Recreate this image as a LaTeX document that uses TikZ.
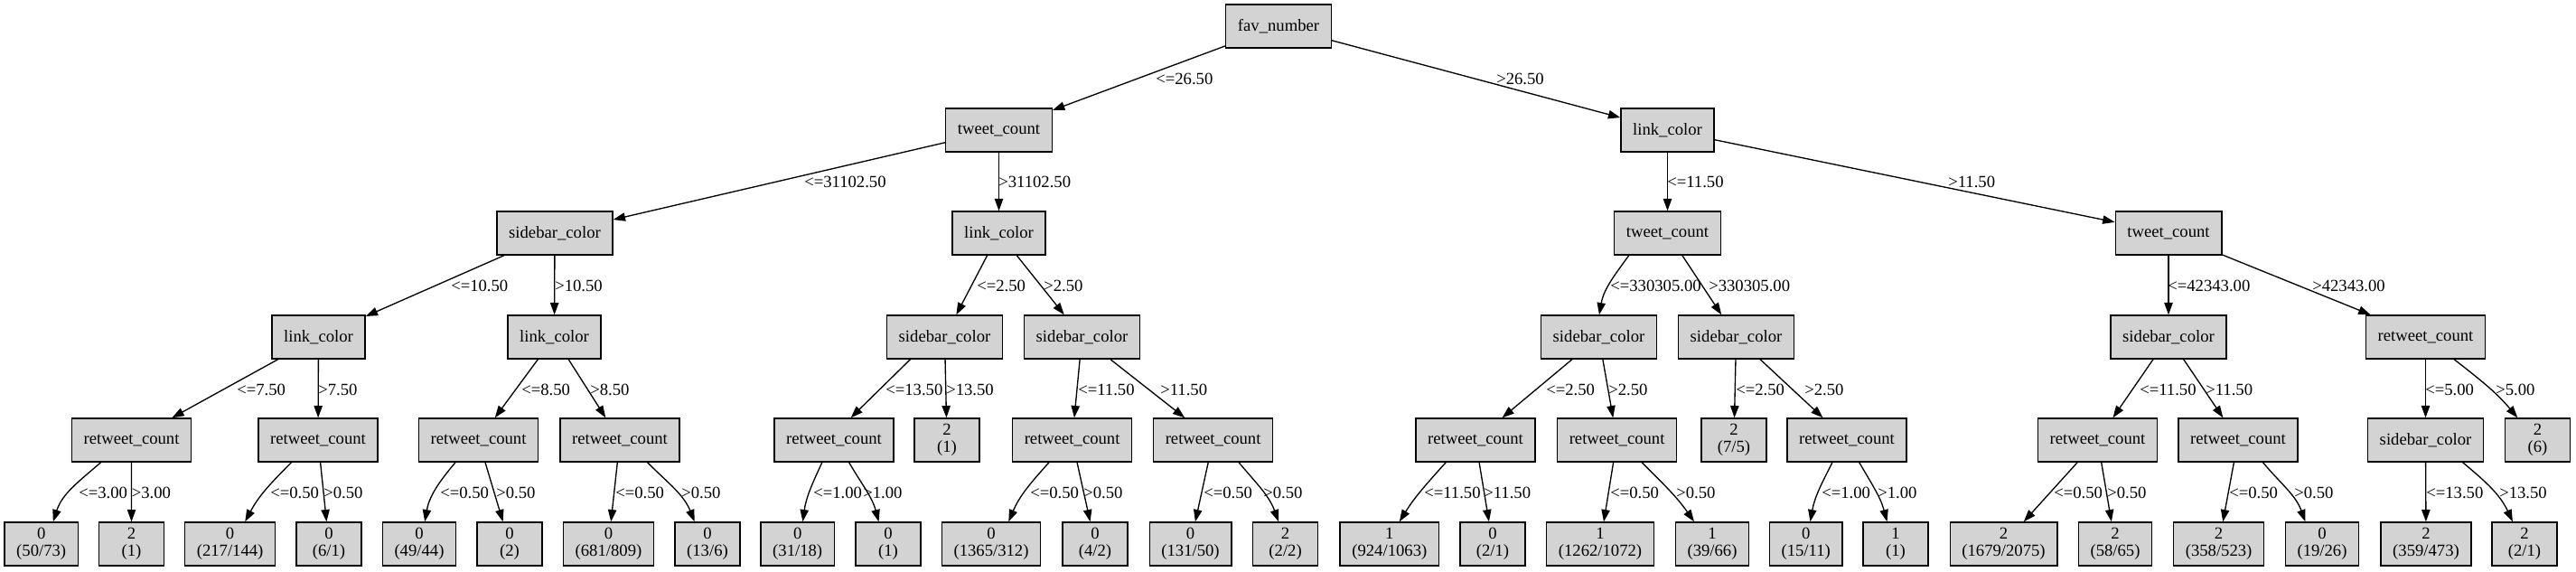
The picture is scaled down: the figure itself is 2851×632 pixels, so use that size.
\documentclass[tikz,border=0pt]{standalone}
\usepackage{fontspec}
\setmainfont{Liberation Serif}
\usetikzlibrary{arrows.meta}

\begin{document}
\begin{tikzpicture}[x=0.75pt,y=0.75pt,
  splitbox/.style={draw, fill={rgb,255:red,211;green,211;blue,211}, line width=1pt,
    minimum width=54pt, minimum height=36pt, inner xsep=9.9pt,
    font=\fontsize{14}{14.5}\selectfont},
  leafbox/.style={splitbox, align=center},
  cond/.style={anchor=west, inner sep=0pt, font=\fontsize{14}{14.5}\selectfont},
  branch/.style={line width=1pt, -{Triangle[length=10pt,width=7pt]}}]
\useasboundingbox (0,0) rectangle (2851,632);

% root
\node[splitbox] (n0) at (1415,603) {fav\_number};
% level 1
\node[splitbox] (n1) at (1105.5,488) {tweet\_count};
\node[splitbox] (n2) at (1845.5,488) {link\_color};
% level 2
\node[splitbox] (n3) at (614,374) {sidebar\_color};
\node[splitbox] (n4) at (1105.5,374) {link\_color};
\node[splitbox] (n5) at (1845.5,374) {tweet\_count};
\node[splitbox] (n6) at (2400,374) {tweet\_count};
% level 3
\node[splitbox] (n7) at (352.5,259) {link\_color};
\node[splitbox] (n8) at (613.5,259) {link\_color};
\node[splitbox] (n9) at (1045.5,259) {sidebar\_color};
\node[splitbox] (n10) at (1197.5,259) {sidebar\_color};
\node[splitbox] (n11) at (1769.5,259) {sidebar\_color};
\node[splitbox] (n12) at (1921.5,259) {sidebar\_color};
\node[splitbox] (n13) at (2400,259) {sidebar\_color};
\node[splitbox] (n14) at (2684.5,259) {retweet\_count};
% level 4
\node[splitbox] (n15) at (145.6,145) {retweet\_count};
\node[splitbox] (n16) at (352,145) {retweet\_count};
\node[splitbox] (n17) at (529.6,145) {retweet\_count};
\node[splitbox] (n18) at (686,145) {retweet\_count};
\node[splitbox] (n19) at (923,145) {retweet\_count};
\node[leafbox] (n20) at (1048,145) {2\\(1)};
\node[splitbox] (n21) at (1186.6,145) {retweet\_count};
\node[splitbox] (n22) at (1342.6,145) {retweet\_count};
\node[splitbox] (n23) at (1633,145) {retweet\_count};
\node[splitbox] (n24) at (1789.6,145) {retweet\_count};
\node[leafbox] (n25) at (1919,145) {2\\(7/5)};
\node[splitbox] (n26) at (2044,145) {retweet\_count};
\node[splitbox] (n27) at (2321.5,145) {retweet\_count};
\node[splitbox] (n28) at (2477,145) {retweet\_count};
\node[splitbox] (n29) at (2684.5,145) {sidebar\_color};
\node[leafbox] (n30) at (2808.5,145) {2\\(6)};
% leaves
\node[leafbox] (l1) at (45.7,30) {0\\(50/73)};
\node[leafbox] (l2) at (145.5,30) {2\\(1)};
\node[leafbox] (l3) at (254.6,30) {0\\(217/144)};
\node[leafbox] (l4) at (364,30) {0\\(6/1)};
\node[leafbox] (l5) at (464,30) {0\\(49/44)};
\node[leafbox] (l6) at (564,30) {0\\(2)};
\node[leafbox] (l7) at (673.5,30) {0\\(681/809)};
\node[leafbox] (l8) at (783,30) {0\\(13/6)};
\node[leafbox] (l9) at (882.7,30) {0\\(31/18)};
\node[leafbox] (l10) at (983,30) {0\\(1)};
\node[leafbox] (l11) at (1097,30) {0\\(1365/312)};
\node[leafbox] (l12) at (1212,30) {0\\(4/2)};
\node[leafbox] (l13) at (1317.5,30) {0\\(131/50)};
\node[leafbox] (l14) at (1422.6,30) {2\\(2/2)};
\node[leafbox] (l15) at (1537.8,30) {1\\(924/1063)};
\node[leafbox] (l16) at (1652,30) {0\\(2/1)};
\node[leafbox] (l17) at (1771,30) {1\\(1262/1072)};
\node[leafbox] (l18) at (1895,30) {1\\(39/66)};
\node[leafbox] (l19) at (1998.7,30) {0\\(15/11)};
\node[leafbox] (l20) at (2098,30) {1\\(1)};
\node[leafbox] (l21) at (2217.5,30) {2\\(1679/2075)};
\node[leafbox] (l22) at (2341,30) {2\\(58/65)};
\node[leafbox] (l23) at (2455.6,30) {2\\(358/523)};
\node[leafbox] (l24) at (2570,30) {0\\(19/26)};
\node[leafbox] (l25) at (2685,30) {2\\(359/473)};
\node[leafbox] (l26) at (2794,30) {2\\(2/1)};

% branches, top down
\draw[branch] (n0) -- (n1);
\draw[branch] (n0) -- (n2);
\draw[branch] (n1) -- (n3);
\draw[branch] (n1) -- (n4);
\draw[branch] (n2) -- (n5);
\draw[branch] (n2) -- (n6);
\draw[branch] (n3) -- (n7);
\draw[branch] (n3) -- (n8);
\draw[branch] (n4) -- (n9);
\draw[branch] (n4) -- (n10);
\draw[branch] (n5.210) to[out=234,in=80] (n11.89);
\draw[branch] (n5) -- (n12);
\draw[branch] (n6) -- (n13);
\draw[branch] (n6) -- (n14);
\draw[branch] (n7) -- (n15);
\draw[branch] (n7) -- (n16);
\draw[branch] (n8) -- (n17);
\draw[branch] (n8) -- (n18);
\draw[branch] (n9.213) -- (n19.53);
\draw[branch] (n9) -- (n20);
\draw[branch] (n10) -- (n21);
\draw[branch] (n10) -- (n22);
\draw[branch] (n11) -- (n23);
\draw[branch] (n11) -- (n24);
\draw[branch] (n12) -- (n25);
\draw[branch] (n12) -- (n26);
\draw[branch] (n13) -- (n27);
\draw[branch] (n13) -- (n28);
\draw[branch] (n14) -- (n29);
\draw[branch] (n14.322) to[out=-38,in=130] (n30.132);
% to the leaves
\draw[branch] (n15.216) to[out=221,in=72] (l1.62);
\draw[branch] (n15) -- (l2);
\draw[branch] (n16.220) to[out=225,in=62] (l3.56);
\draw[branch] (n16) -- (l4);
\draw[branch] (n17.224) to[out=230,in=80] (l5.76);
\draw[branch] (n17) -- (l6);
\draw[branch] (n18) -- (l7);
\draw[branch] (n18.321) to[out=-45,in=112] (l8.120);
\draw[branch] (n19.242) to[out=245,in=82] (l9.77);
\draw[branch] (n19.304) to[out=-60,in=105] (l10.113);
\draw[branch] (n21.224) to[out=228,in=67] (l11.52);
\draw[branch] (n21) -- (l12);
\draw[branch] (n22) -- (l13);
\draw[branch] (n22.319) to[out=-50,in=110] (l14.107);
\draw[branch] (n23.217) to[out=228,in=58] (l15.66);
\draw[branch] (n23) -- (l16);
\draw[branch] (n24) -- (l17);
\draw[branch] (n24.318) to[out=-45,in=125] (l18.129);
\draw[branch] (n26.237) to[out=243,in=80] (l19.79);
\draw[branch] (n26.299) to[out=-60,in=105] (l20.111);
\draw[branch] (n27) -- (l21);
\draw[branch] (n27) -- (l22);
\draw[branch] (n28) -- (l23);
\draw[branch] (n28.318) to[out=-50,in=110] (l24.127);
\draw[branch] (n29) -- (l25);
\draw[branch] (n29.329) to[out=-40,in=115] (l26.118);

% split conditions
\node[cond] (c1) at (1279,545) {<=26.50};
\node[cond] (c2) at (1656,545) {>26.50};
\node[cond] (c3) at (890,431) {<=31102.50};
\node[cond] (c4) at (1105,431) {>31102.50};
\node[cond] (c5) at (1845,431) {<=11.50};
\node[cond] (c6) at (2156,431) {>11.50};
\node[cond] (c7) at (499,316) {<=10.50};
\node[cond] (c8) at (614,316) {>10.50};
\node[cond] (c9) at (1081,316) {<=2.50};
\node[cond] (c10) at (1155,316) {>2.50};
\node[cond] (c11) at (1782,316) {<=330305.00};
\node[cond] (c12) at (1891,316) {>330305.00};
\node[cond] (c13) at (2399,316) {<=42343.00};
\node[cond] (c14) at (2559,316) {>42343.00};
\node[cond] (c15) at (262,201) {<=7.50};
\node[cond] (c16) at (352,201) {>7.50};
\node[cond] (c17) at (577,201) {<=8.50};
\node[cond] (c18) at (653,201) {>8.50};
\node[cond] (c19) at (980,201) {<=13.50};
\node[cond] (c20) at (1047,201) {>13.50};
\node[cond] (c21) at (1193,201) {<=11.50};
\node[cond] (c22) at (1284,201) {>11.50};
\node[cond] (c23) at (1711,201) {<=2.50};
\node[cond] (c24) at (1780,201) {>2.50};
\node[cond] (c25) at (1921,201) {<=2.50};
\node[cond] (c26) at (1997,201) {>2.50};
\node[cond] (c27) at (2368,201) {<=11.50};
\node[cond] (c28) at (2441,201) {>11.50};
\node[cond] (c29) at (2684,201) {<=5.00};
\node[cond] (c30) at (2762,201) {>5.00};
\node[cond] (c31) at (87,86.4) {<=3.00};
\node[cond] (c32) at (145.5,86.4) {>3.00};
\node[cond] (c33) at (299,86.4) {<=0.50};
\node[cond] (c34) at (358,86.4) {>0.50};
\node[cond] (c35) at (487,86.4) {<=0.50};
\node[cond] (c36) at (549,86.4) {>0.50};
\node[cond] (c37) at (681,86.4) {<=0.50};
\node[cond] (c38) at (754,86.4) {>0.50};
\node[cond] (c39) at (900,86.4) {<=1.00};
\node[cond] (c40) at (955,86.4) {>1.00};
\node[cond] (c41) at (1140,86.4) {<=0.50};
\node[cond] (c42) at (1199,86.4) {>0.50};
\node[cond] (c43) at (1332,86.4) {<=0.50};
\node[cond] (c44) at (1398,86.4) {>0.50};
\node[cond] (c45) at (1576,86.4) {<=11.50};
\node[cond] (c46) at (1642,86.4) {>11.50};
\node[cond] (c47) at (1782,86.4) {<=0.50};
\node[cond] (c48) at (1855,86.4) {>0.50};
\node[cond] (c49) at (2016,86.4) {<=1.00};
\node[cond] (c50) at (2078,86.4) {>1.00};
\node[cond] (c51) at (2273,86.4) {<=0.50};
\node[cond] (c52) at (2332,86.4) {>0.50};
\node[cond] (c53) at (2467,86.4) {<=0.50};
\node[cond] (c54) at (2539,86.4) {>0.50};
\node[cond] (c55) at (2685,86.4) {<=13.50};
\node[cond] (c56) at (2766,86.4) {>13.50};

\end{tikzpicture}
\end{document}
